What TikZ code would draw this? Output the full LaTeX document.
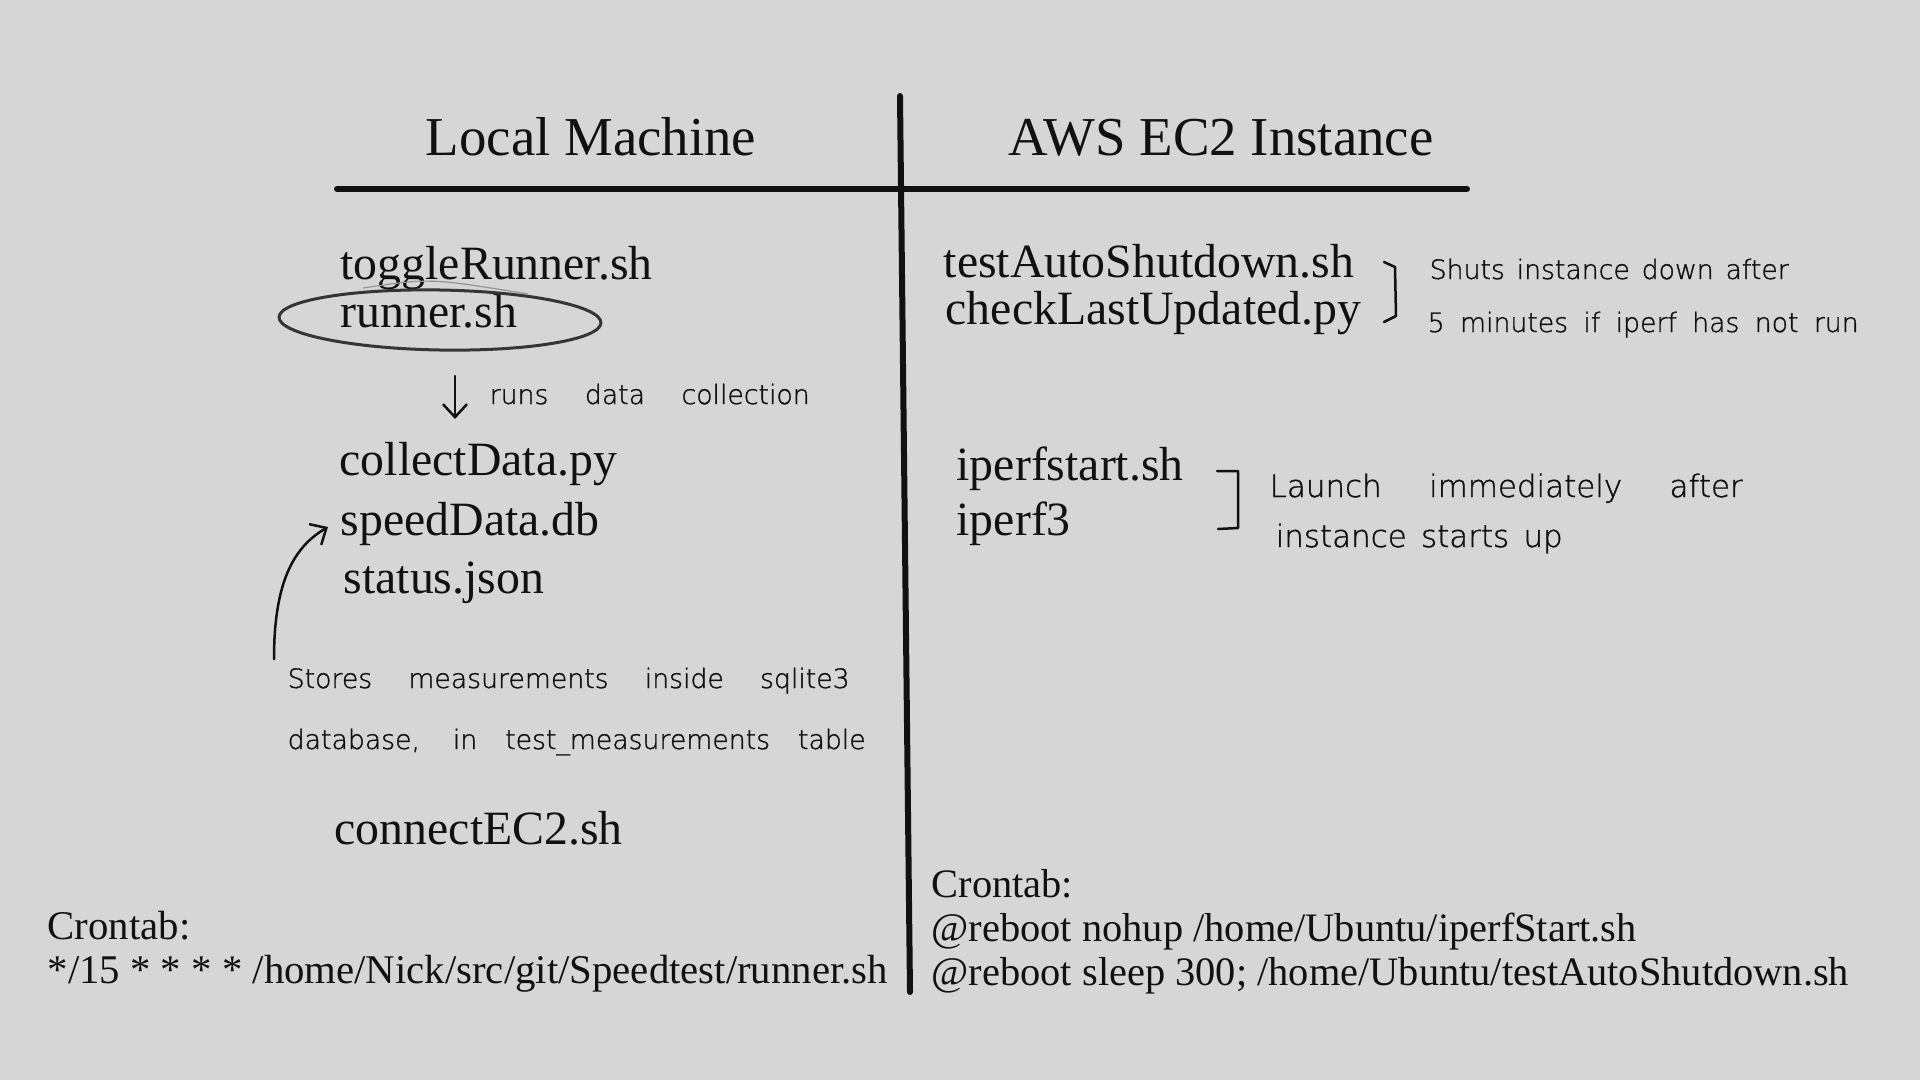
\documentclass[tikz,border=0pt]{standalone}
\usepackage{fontspec}
\setmainfont{Liberation Serif}
\IfFontExistsTF{DejaVu Sans ExtraLight}
  {\newfontfamily\handfont{DejaVu Sans ExtraLight}[FakeBold=1.2]}
  {\newfontfamily\handfont{DejaVu Sans}}
\usepackage{xcolor}
\usetikzlibrary{arrows.meta, positioning, calc}
\definecolor{bgGrey}{RGB}{214,214,214}
\definecolor{inkBlack}{RGB}{17,17,17}
% handwritten line, spread to a given width (in px of the picture)
\newcommand{\scrawl}[2]{\makebox[#1\dimexpr0.1mm\relax][s]{#2}}

\begin{document}
\begin{tikzpicture}[
    x=0.1mm, y=0.1mm, inner sep=0pt, text=inkBlack,
    title/.style={font=\fontsize{15.6}{18}\selectfont, anchor=base},
    file/.style={font=\fontsize{13.6}{16}\selectfont, anchor=base west},
    cron/.style={font=\fontsize{11.6}{14}\selectfont, anchor=base west},
    hand/.style={font=\handfont\fontsize{7.6}{9}\selectfont, anchor=base west},
    handbig/.style={hand, font=\handfont\fontsize{8.8}{10}\selectfont},
    rule/.style={draw=inkBlack, line width=0.6mm, line cap=round},
    pen/.style={draw=inkBlack, line width=0.25mm, line cap=round, line join=round},
    barb/.style={pen, -{Straight Barb[length=1.3mm, width=2.4mm]}}
]
\fill[bgGrey] (0,0) rectangle (1920,1080);
\useasboundingbox (0,0) rectangle (1920,1080);

% Column headers
\node[title] (hd-local) at (591, 925) {Local Machine};
\node[title] (hd-aws) at (1221, 925) {AWS EC2 Instance};

% Table rules
\coordinate (rule-w) at (337, 891);
\coordinate (rule-e) at (1467, 891);
\coordinate (rule-n) at (900, 984);
\coordinate (rule-s) at (910, 88);
\draw[rule] (rule-w) -- (rule-e);
\draw[rule] (rule-n) -- (rule-s);

% Local files
\foreach \n/\x/\y/\name in {toggle/340/801/toggleRunner.sh, runner/340/753/runner.sh,
                           collect/339/605/collectData.py, speed/340/545/speedData.db,
                           status/343/487/status.json, connect/334/236/connectEC2.sh} {
   \node[file] (\n) at (\x, \y) {\name};
}
% EC2 files
\foreach \n/\x/\y/\name in {autoshut/943/803/testAutoShutdown.sh,
                           lastupd/945/756/checkLastUpdated.py,
                           ipstart/956/600/iperfstart.sh, ip3/956/545/iperf3} {
   \node[file] (\n) at (\x, \y) {\name};
}

% Crontab lines
\node[cron] (cron-l1) at (47, 141) {Crontab:};
\node[cron] (cron-l2) at (47, 97) {*/15 * * * * /home/Nick/src/git/Speedtest/runner.sh};
\node[cron, font=\fontsize{11.5}{14}\selectfont] (cron-r1) at (931, 183) {Crontab:};
\node[cron, font=\fontsize{11.5}{14}\selectfont] (cron-r2) at (931, 139) {@reboot nohup /home/Ubuntu/iperfStart.sh};
\node[cron, font=\fontsize{11.5}{14}\selectfont] (cron-r3) at (931, 95) {@reboot sleep 300; /home/Ubuntu/testAutoShutdown.sh};

% Handwritten notes
\node[hand] (note-runs) at (489, 676) {\scrawl{320}{runs data collection}};
\node[hand] (note-st1) at (287, 392) {\scrawl{562}{Stores measurements inside sqlite3}};
\node[hand] (note-st2) at (287, 331) {\scrawl{578}{database, in test\_measurements table}};
\node[hand] (note-sh1) at (1429, 801) {\scrawl{359}{Shuts instance down after}};
\node[hand] (note-sh2) at (1427, 748) {\scrawl{431}{5 minutes if iperf has not run}};
\node[handbig] (note-la1) at (1269, 583) {\scrawl{473}{Launch immediately after}};
\node[handbig] (note-la2) at (1275, 533) {\scrawl{287}{instance starts up}};

% Circle round runner.sh
\draw[pen, line width=0.3mm, draw=inkBlack!85, rotate around={-1:(440,760)}]
     (440,760) ellipse [x radius=161, y radius=30];
\draw[draw=inkBlack!45, line width=0.12mm] (363,792) .. controls (430,802) .. (528,786);

% Arrows
\coordinate (runs-top) at (455, 704);
\coordinate (runs-tip) at (455, 661);
\draw[barb] (runs-top) -- (runs-tip);
\coordinate (store-foot) at (274, 421);
\coordinate (store-tip) at (328, 553);
\draw[barb] (store-foot) .. controls (274,495) and (292,532) .. (store-tip);

% Brackets
\draw[pen] (1384,818) -- (1395,813) -- (1396,764) -- (1384,758);
\draw[pen] (1217,609) -- (1238,609) -- (1238,552) -- (1218,551);
\end{tikzpicture}
\end{document}
